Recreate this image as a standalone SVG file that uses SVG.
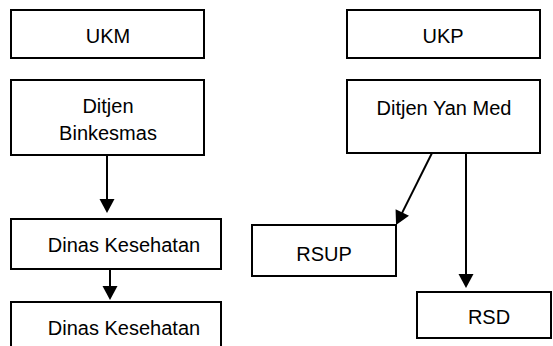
<svg xmlns="http://www.w3.org/2000/svg" width="553" height="346" viewBox="0 0 553 346">
<style>
.box{fill:#fff;stroke:#000;stroke-width:2}
.t{font-family:"Liberation Sans",Arial,sans-serif;font-size:20px;fill:#000;text-anchor:middle}
.c{stroke:#000;stroke-width:2;fill:none}
</style>
<defs>
<marker id="ah" markerUnits="userSpaceOnUse" markerWidth="14" markerHeight="15" refX="4" refY="7.5" orient="auto" overflow="visible">
<path d="M0,0 L14,7.5 L0,15 z" fill="#000"/>
</marker>
</defs>
<rect width="553" height="346" fill="#fff"/>
<g id="ukm"><rect class="box" x="11" y="10" width="193" height="48"/><text class="t" x="108" y="43">UKM</text></g>
<g id="ditjen-binkesmas"><rect class="box" x="11" y="80" width="193" height="75"/><text class="t" x="108" y="113">Ditjen</text><text class="t" x="108" y="140">Binkesmas</text></g>
<g id="dinas1"><rect class="box" x="11" y="219" width="210" height="50"/><text class="t" x="124" y="252">Dinas Kesehatan</text></g>
<g id="dinas2"><rect class="box" x="11" y="302" width="210" height="60"/><text class="t" x="124" y="335">Dinas Kesehatan</text></g>
<g id="ukp"><rect class="box" x="347" y="10" width="193" height="48"/><text class="t" x="443" y="43">UKP</text></g>
<g id="ditjen-yanmed"><rect class="box" x="347" y="80" width="193" height="73"/><text class="t" x="444" y="115">Ditjen Yan Med</text></g>
<g id="rsup"><rect class="box" x="252" y="225" width="144" height="51"/><text class="t" x="324" y="261">RSUP</text></g>
<g id="rsd"><rect class="box" x="417" y="292" width="134" height="46"/><text class="t" x="489" y="324">RSD</text></g>
<g id="connectors">
<line class="c" x1="107" y1="155" x2="107" y2="203" marker-end="url(#ah)"/>
<line class="c" x1="110" y1="269" x2="110" y2="290" marker-end="url(#ah)"/>
<line class="c" x1="432" y1="153" x2="400.5" y2="216.1" marker-end="url(#ah)"/>
<line class="c" x1="466" y1="153" x2="466" y2="278" marker-end="url(#ah)"/>
</g>
</svg>
